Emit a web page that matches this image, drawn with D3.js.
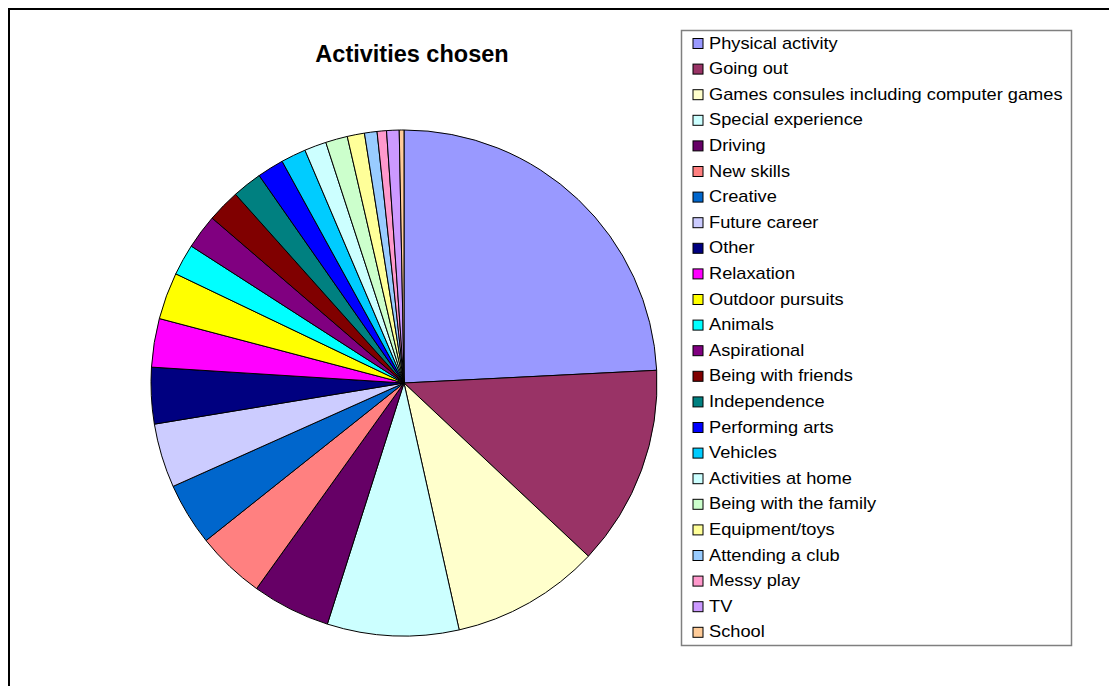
<!DOCTYPE html>
<html>
<head>
<meta charset="utf-8">
<script src="https://cdn.jsdelivr.net/npm/d3@7"></script>
<style>
  html, body { margin: 0; padding: 0; background: #fff; }
  svg { display: block; }
  text { font-family: Arial, "Liberation Sans", sans-serif; }
</style>
</head>
<body>
<svg id="chart" width="1109" height="686"></svg>
<script>
const categories = [
  "Physical activity", "Going out", "Games consules including computer games",
  "Special experience", "Driving", "New skills", "Creative", "Future career",
  "Other", "Relaxation", "Outdoor pursuits", "Animals", "Aspirational",
  "Being with friends", "Independence", "Performing arts", "Vehicles",
  "Activities at home", "Being with the family", "Equipment/toys",
  "Attending a club", "Messy play", "TV", "School"
];
const values = [
  24.2, 12.8, 9.5, 8.4, 5.0, 4.4, 4.0, 4.1, 3.6, 3.1, 3.0, 2.0, 2.2,
  2.1, 1.9, 1.7, 1.6, 1.4, 1.4, 1.1, 0.8, 0.6, 0.8, 0.3
];
const colors = [
  "#9999FF", "#993366", "#FFFFCC", "#CCFFFF", "#660066", "#FF8080", "#0066CC",
  "#CCCCFF", "#000080", "#FF00FF", "#FFFF00", "#00FFFF", "#800080", "#800000",
  "#008080", "#0000FF", "#00CCFF", "#CCFFFF", "#CCFFCC", "#FFFF99", "#99CCFF",
  "#FF99CC", "#CC99FF", "#FFCC99"
];
const title = "Activities chosen";

const data = categories.map((c, i) => ({ name: c, value: values[i], color: colors[i] }));
const svg = d3.select("#chart");

// outer chart border (right and bottom run past the window)
svg.append("path")
  .attr("d", "M9,700 V9 H1130")
  .attr("fill", "none")
  .attr("stroke", "#000")
  .attr("stroke-width", 2);

// title
svg.append("text")
  .attr("x", 412)
  .attr("y", 62)
  .attr("text-anchor", "middle")
  .attr("font-size", "23.5px")
  .attr("font-weight", "bold")
  .attr("fill", "#000")
  .text(title);

// pie
const cx = 404, cy = 383, r = 253;
const pie = d3.pie().value(d => d.value).sort(null);
const arc = d3.arc().innerRadius(0).outerRadius(r);
const g = svg.append("g").attr("transform", `translate(${cx},${cy})`);
g.selectAll("path.slice")
  .data(pie(data))
  .join("path")
  .attr("class", "slice")
  .attr("d", arc)
  .attr("fill", d => d.data.color)
  .attr("stroke", "#000")
  .attr("stroke-width", 1)
  .attr("stroke-linejoin", "round");

// legend
const lx = 681, ly = 30, lw = 390, lh = 615;
svg.append("rect")
  .attr("x", lx + 0.5).attr("y", ly + 0.5)
  .attr("width", lw).attr("height", lh)
  .attr("fill", "#fff")
  .attr("stroke", "#7f7f7f")
  .attr("stroke-width", 1.5);

const rowY = d3.scaleLinear().domain([0, categories.length - 1]).range([43.5, 632.3]);
const lg = svg.append("g");
const items = lg.selectAll("g.item").data(data).join("g")
  .attr("class", "item")
  .attr("transform", (d, i) => `translate(0,${rowY(i)})`);
items.append("rect")
  .attr("x", 693).attr("y", -5)
  .attr("width", 10).attr("height", 10)
  .attr("fill", d => d.color)
  .attr("stroke", "#000")
  .attr("stroke-width", 1);
items.append("text")
  .attr("transform", "translate(709,5) scale(1.14,1)")
  .attr("font-size", "16px")
  .attr("fill", "#000")
  .text(d => d.name);
</script>
</body>
</html>
